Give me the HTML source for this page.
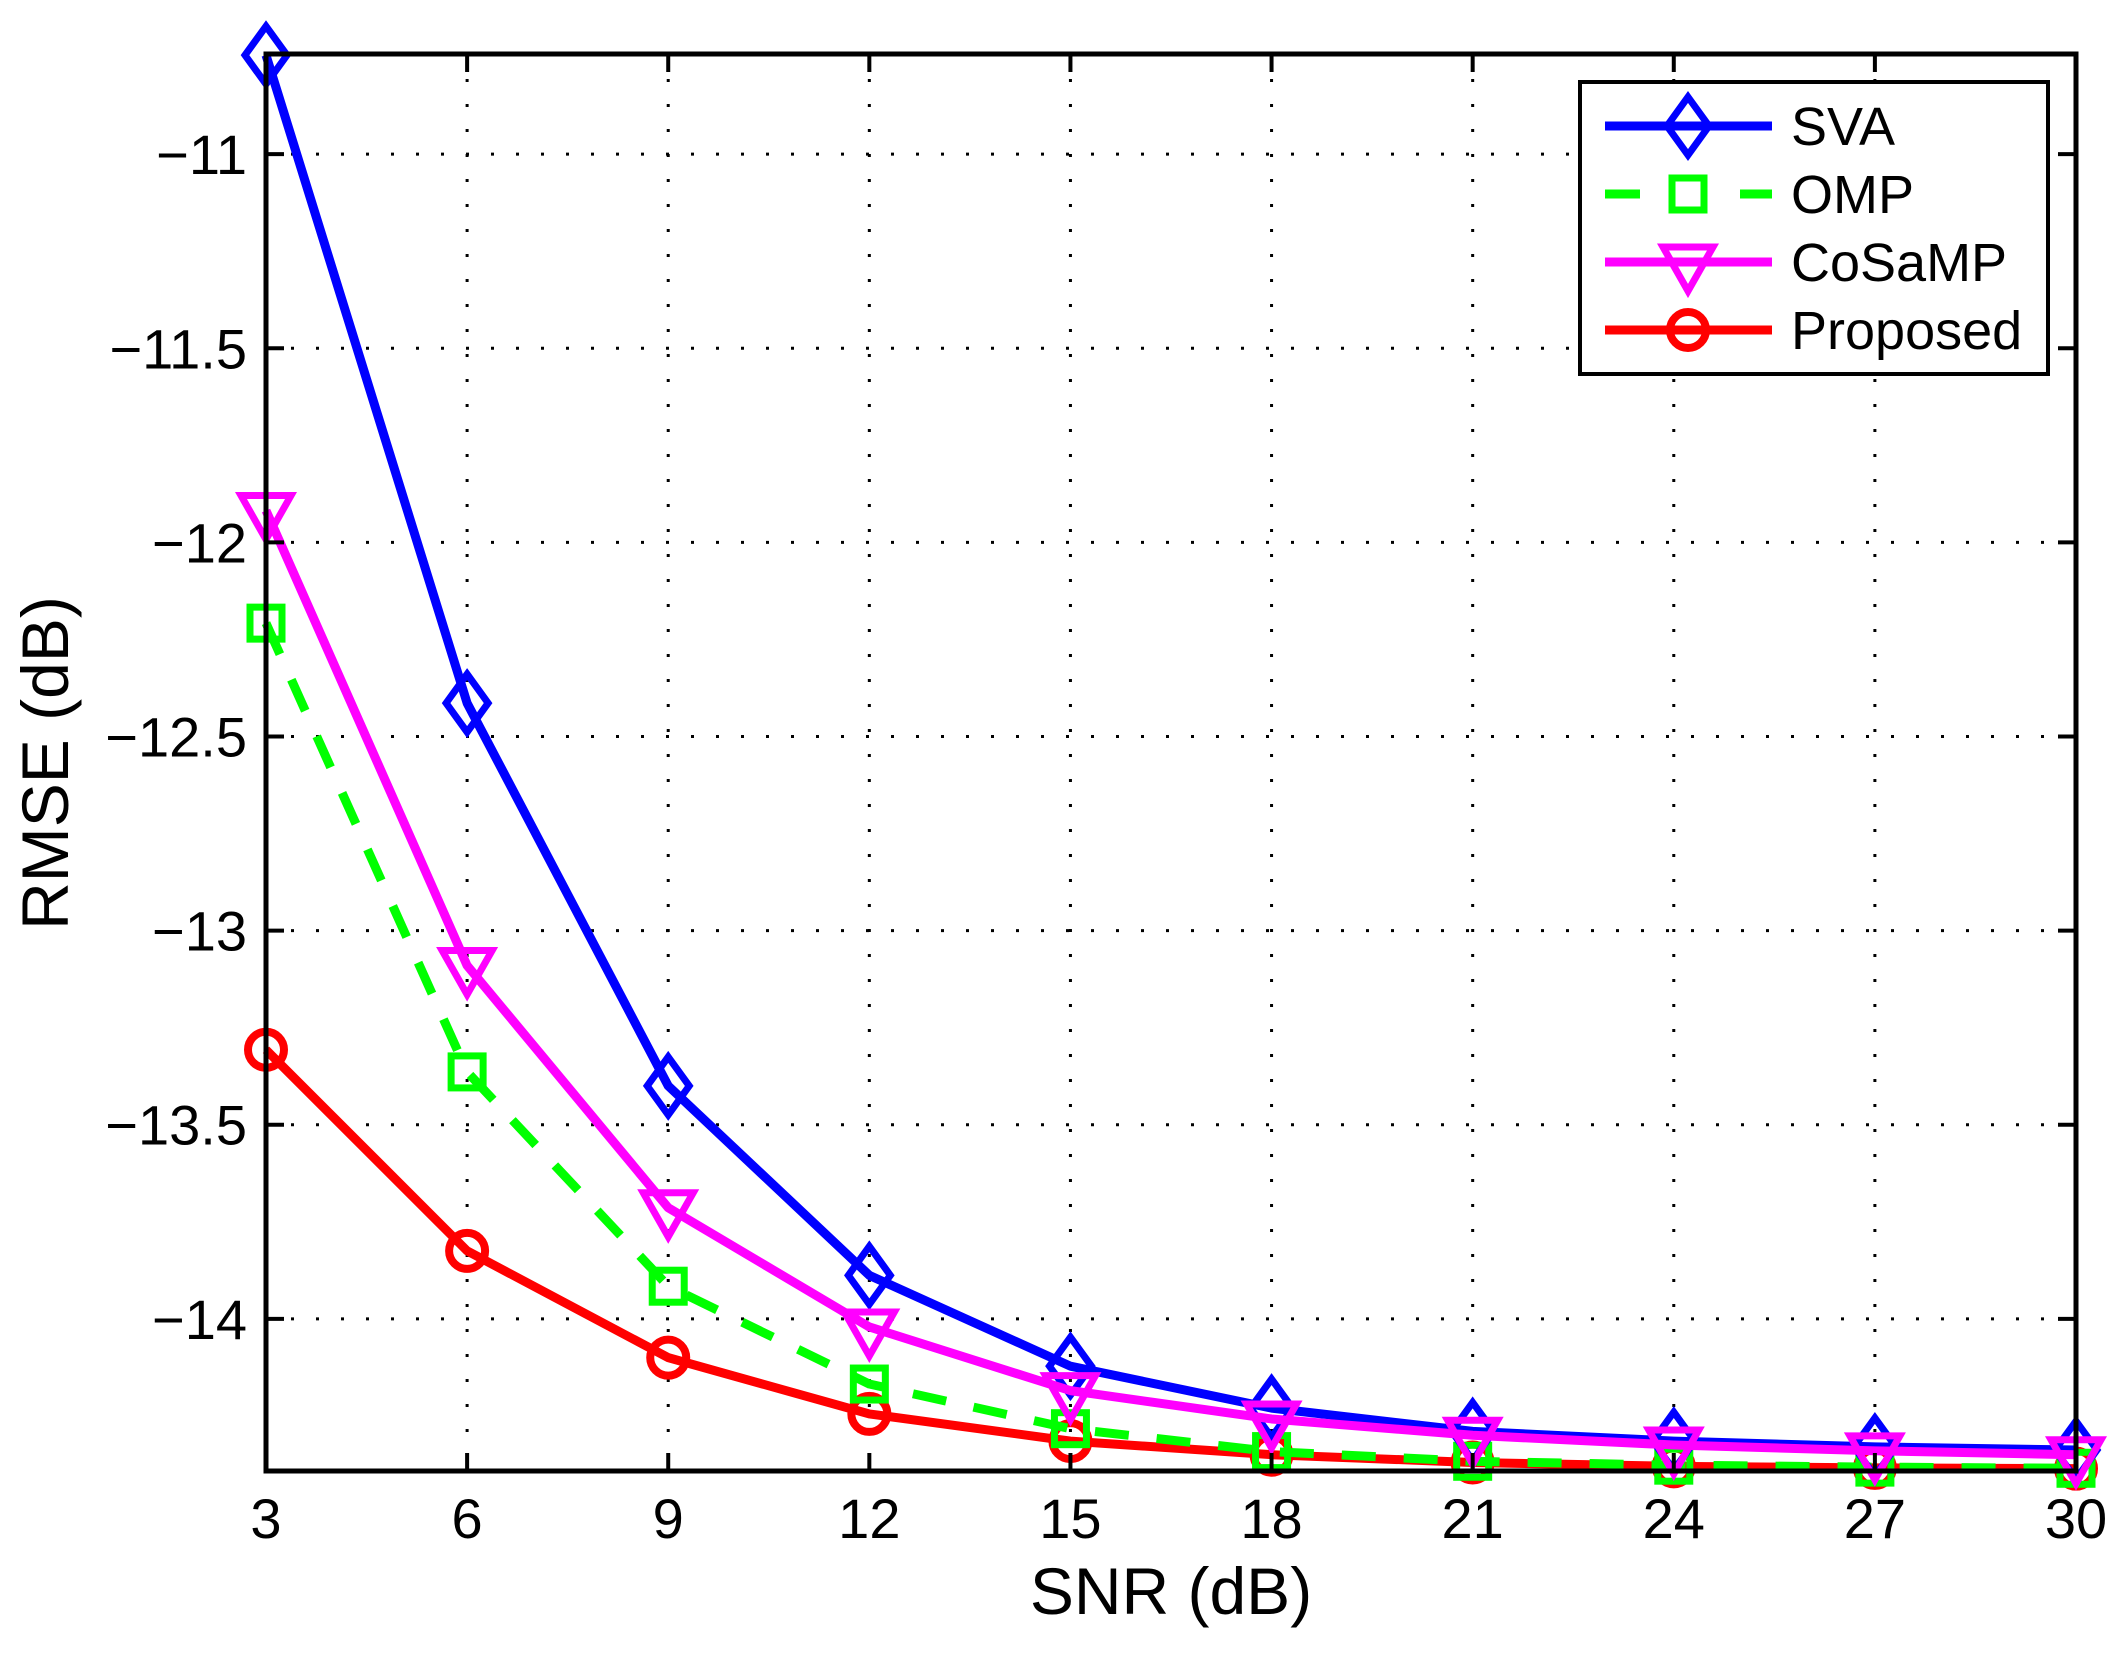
<!DOCTYPE html>
<html><head><meta charset="utf-8"><style>
html,body{margin:0;padding:0;background:#fff;}
svg{display:block;font-family:"Liberation Sans",Arial,sans-serif;}
</style></head><body>
<svg id="chart" width="2128" height="1653" viewBox="0 0 2128 1653" xmlns="http://www.w3.org/2000/svg">
<rect x="0" y="0" width="2128" height="1653" fill="#fff"/>
<g id="grid"></g>
<g id="series"></g>
<g id="axes"></g>
<text x="1171" y="1614" font-size="66" text-anchor="middle">SNR (dB)</text>
<text transform="translate(68,763) rotate(-90)" font-size="66" text-anchor="middle">RMSE (dB)</text>
<g id="legend"></g>
</svg>
<script>
const snr = [3,6,9,12,15,18,21,24,27,30];
const sva = [-10.745,-12.414,-13.40,-13.888,-14.122,-14.23,-14.29,-14.315,-14.33,-14.338];
const omp = [-12.208,-13.364,-13.916,-14.168,-14.283,-14.342,-14.367,-14.377,-14.382,-14.385];
const cosamp = [-11.918,-13.09,-13.714,-14.021,-14.185,-14.258,-14.30,-14.325,-14.34,-14.35];
const proposed = [-13.307,-13.825,-14.10,-14.245,-14.315,-14.35,-14.37,-14.38,-14.384,-14.386];
const xTicks = [3,6,9,12,15,18,21,24,27,30];
const yTicks = [-11,-11.5,-12,-12.5,-13,-13.5,-14];
const seriesNames = ["SVA","OMP","CoSaMP","Proposed"];

const NS="http://www.w3.org/2000/svg";
const L=266,R=2076,T=54,B=1471;
const xMin=3,xMax=30,yMin=-14.392,yMax=-10.742;
const xs=v=>L+(v-xMin)/(xMax-xMin)*(R-L);
const ys=v=>T+(yMax-v)/(yMax-yMin)*(B-T);
function mk(tag,attrs,parent){const e=document.createElementNS(NS,tag);for(const k in attrs)e.setAttribute(k,attrs[k]);parent.appendChild(e);return e;}
const grid=document.getElementById('grid'),axes=document.getElementById('axes'),ser=document.getElementById('series'),leg=document.getElementById('legend');

xTicks.forEach(t=>{
  const x=xs(t);
  if(t!==xMin&&t!==xMax){const g=mk('line',{x1:x,y1:T,x2:x,y2:B,stroke:'#000','stroke-width':3,'stroke-dasharray':'3 22'},grid);
  
  }
  const a=mk('line',{x1:x,y1:B,x2:x,y2:B-18,stroke:'#000','stroke-width':4},axes);
  
  
  const b=mk('line',{x1:x,y1:T,x2:x,y2:T+18,stroke:'#000','stroke-width':4},axes);
  
  
  const tx=mk('text',{x:x,y:1538,'font-size':56,'text-anchor':'middle'},axes);
  tx.textContent=String(t);
  
  
});
yTicks.forEach(t=>{
  const y=ys(t);
  const g=mk('line',{x1:L,y1:y,x2:R,y2:y,stroke:'#000','stroke-width':3,'stroke-dasharray':'3 22'},grid);
  
  
  const a=mk('line',{x1:L,y1:y,x2:L+18,y2:y,stroke:'#000','stroke-width':4},axes);
  
  
  const b=mk('line',{x1:R,y1:y,x2:R-18,y2:y,stroke:'#000','stroke-width':4},axes);
  
  
  const tx=mk('text',{x:247,y:y+20,'font-size':56,'text-anchor':'end'},axes);
  tx.textContent='\u2212'+String(Math.abs(t));
  
  
});
const frame=mk('rect',{x:L,y:T,width:R-L,height:B-T,fill:'none',stroke:'#000','stroke-width':5},axes);



function marker(type,x,y,color,parent){
  let e;
  if(type==='d')e=mk('polygon',{points:`${x},${y-29} ${x+21},${y} ${x},${y+29} ${x-21},${y}`,fill:'none',stroke:color,'stroke-width':7},parent);
  else if(type==='s')e=mk('rect',{x:x-16,y:y-16,width:32,height:32,fill:'none',stroke:color,'stroke-width':7},parent);
  else if(type==='v')e=mk('polygon',{points:`${x-25},${y-15} ${x+25},${y-15} ${x},${y+29}`,fill:'none',stroke:color,'stroke-width':7},parent);
  else e=mk('circle',{cx:x,cy:y,r:18,fill:'none',stroke:color,'stroke-width':8},parent);
  return e;
}
const defs=[
  {name:'sva',data:sva,color:'#0000ff',m:'d',dash:null},
  {name:'omp',data:omp,color:'#00ff00',m:'s',dash:'34 28'},
  {name:'cosamp',data:cosamp,color:'#ff00ff',m:'v',dash:null},
  {name:'proposed',data:proposed,color:'#ff0000',m:'o',dash:null}
];
const order=[3,1,0,2];
order.forEach(i=>{
  const s=defs[i];
  const g=mk('g',{},ser);
  
  
  const pts=s.data.map((v,j)=>xs(snr[j])+','+ys(v)).join(' ');
  const pl=mk('polyline',{points:pts,fill:'none',stroke:s.color,'stroke-width':9,'stroke-linejoin':'round'},g);
  if(s.dash)pl.setAttribute('stroke-dasharray',s.dash);
  
  
  s.data.forEach((v,j)=>{
    const mm=marker(s.m,xs(snr[j]),ys(v),s.color,g);
    
    
  });
});

const box=mk('rect',{x:1580,y:82,width:468,height:292,fill:'#fff',stroke:'#000','stroke-width':4},leg);


const ly=[126,194,262,330];
defs.forEach((s,i)=>{
  const g=mk('g',{},leg);
  
  
  const ln=mk('line',{x1:1605,y1:ly[i],x2:1772,y2:ly[i],stroke:s.color,'stroke-width':9},g);
  if(s.dash)ln.setAttribute('stroke-dasharray','35 100');
  
  
  const mm=marker(s.m,1688,ly[i],s.color,g);
  
  
  const t=mk('text',{x:1791,y:ly[i]+19,'font-size':54},g);
  t.textContent=seriesNames[i];
  
  
});
</script>
</body></html>
